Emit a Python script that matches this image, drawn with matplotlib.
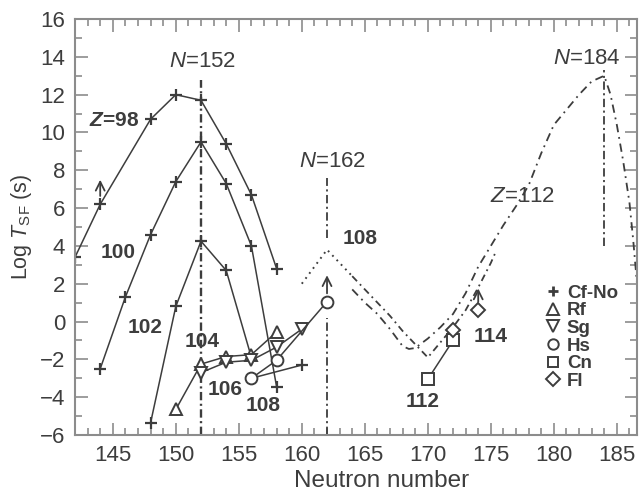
#!/usr/bin/env python3
"""Spontaneous fission half-lives of even-even heavy nuclei versus neutron number."""

import matplotlib

matplotlib.use("Agg")
import matplotlib.pyplot as plt
from matplotlib.lines import Line2D
from matplotlib.ticker import MultipleLocator

INK = "#3d3d3d"
FRAME = "#8c8c8c"

# measured log T_SF (s), Cf-No isotopes
z98_n = [142, 144, 148, 150, 152, 154, 156, 158]
z98_log_t = [3.4, 6.2, 10.7, 12.0, 11.7, 9.4, 6.7, 2.8]
z100_n = [144, 146, 148, 150, 152, 154, 156, 158]
z100_log_t = [-2.5, 1.3, 4.6, 7.4, 9.5, 7.3, 4.0, -3.45]
z102_n = [148, 150, 152, 154, 156]
z102_log_t = [-5.35, 0.8, 4.25, 2.7, -1.9]

# heavier elements
rf_n = [150, 152, 154, 156, 158]
rf_log_t = [-4.65, -2.25, -1.85, -1.75, -0.55]
sg_n = [152, 154, 156, 158, 160]
sg_log_t = [-2.7, -2.15, -2.05, -1.35, -0.4]
hs_n = [156, 158, 162]
hs_log_t = [-3.0, -2.05, 1.05]
hs_side_n = [156, 160]
hs_side_log_t = [-3.0, -2.3]
cn_n = [170, 172]
cn_log_t = [-3.05, -1.0]
fl_n = [172, 174]
fl_log_t = [-0.45, 0.6]

# lower limits (arrows)
limit_n = [144, 162, 174]
limit_from = [6.2, 1.05, 0.6]
limit_to = [7.5, 2.45, 1.75]

# calculated curves
calc108_n = [160, 161, 162, 163, 164]
calc108_log_t = [2.0, 2.9, 3.8, 3.1, 2.4]
calc108_tail_n = [164, 165, 166, 167, 168, 169, 170, 171, 172, 173, 174, 175, 175.4]
calc108_tail_log_t = [2.4, 1.7, 1.0, 0.3, -0.5, -1.2, -1.9, -1.1, -0.3, 0.6, 1.8, 3.1, 3.7]
calc112_n = [164.0, 165, 166, 167, 168, 168.5, 169, 170, 171, 172, 173, 174, 175, 176,
             177, 178, 179, 180, 181, 182, 183, 184, 184.5, 185, 185.5, 186, 186.3, 186.6]
calc112_log_t = [1.7, 1.0, 0.4, -0.4, -1.3, -1.45, -1.4, -0.9, -0.3, 0.4, 1.5, 2.9, 4.0, 5.1,
                 6.1, 7.2, 8.9, 10.4, 11.2, 12.0, 12.7, 13.0, 12.0, 10.4, 8.5, 6.3, 4.3, 2.0]

# closed shells: N, bottom and top of the guide lines
shell_n = [152, 162, 162, 184]
shell_lo = [-6.0, -6.0, 4.4, 4.0]
shell_hi = [12.8, 0.2, 7.6, 13.3]

legend_labels = ["Cf-No", "Rf", "Sg", "Hs", "Cn", "Fl"]


def open_marker(marker, size):
    return dict(marker=marker, ms=size, mfc="white", mec=INK, mew=1.4)


def main() -> int:
    plt.rcParams.update({
        "font.family": ["Liberation Sans", "DejaVu Sans"],
        "mathtext.fontset": "custom",
        "mathtext.rm": "Liberation Sans",
        "mathtext.it": "Liberation Sans:italic",
        "mathtext.bf": "Liberation Sans:bold",
        "mathtext.bfit": "Liberation Sans:italic:bold",
        "lines.scale_dashes": False,
    })

    fig = plt.figure(figsize=(6.41, 4.97), dpi=100)
    ax = fig.add_axes([75 / 641, 62 / 497, 562 / 641, 416 / 497])

    # guide lines at the shell closures
    for n, lo, hi in zip(shell_n, shell_lo, shell_hi):
        width = 1.7 if n == 152 else 1.3
        ax.plot([n, n], [lo, hi], color=INK, lw=width, dashes=(6, 2.5, 1.5, 2.5))

    # calculated half-lives
    ax.plot(calc108_n, calc108_log_t, color=INK, lw=1.4, dashes=(1.3, 3.2))
    ax.plot(calc108_tail_n, calc108_tail_log_t, color=INK, lw=1.3, dashes=(5, 3, 1.3, 3))
    ax.plot(calc112_n, calc112_log_t, color=INK, lw=1.3, dashes=(6, 3.5, 1.3, 3.5))

    # Cf-No
    cross = dict(marker="+", ms=9, mew=1.6, color=INK, lw=1.1)
    ax.plot(z98_n, z98_log_t, **cross)
    ax.plot(z100_n, z100_log_t, **cross)
    ax.plot(z102_n, z102_log_t, markevery=slice(0, -1), **cross)
    ax.plot(hs_side_n, hs_side_log_t, markevery=[1], **cross)

    # heavier elements, open symbols
    ax.plot(rf_n, rf_log_t, color=INK, lw=1.1, **open_marker("^", 9))
    ax.plot(sg_n, sg_log_t, color=INK, lw=1.1, **open_marker("v", 9))
    ax.plot(hs_n, hs_log_t, color=INK, lw=1.1, **open_marker("o", 8.5))
    ax.plot(cn_n, cn_log_t, color=INK, lw=1.1, **open_marker("s", 8.5))
    ax.plot(fl_n, fl_log_t, ls="none", **open_marker("D", 7.6))

    for n, lo, hi in zip(limit_n, limit_from, limit_to):
        ax.annotate("", xy=(n, hi), xytext=(n, lo),
                    arrowprops=dict(arrowstyle="->", color=INK, lw=1.3,
                                    mutation_scale=16, shrinkA=6, shrinkB=0))

    # labels
    plain = dict(color=INK, ha="center", va="center", fontsize=16)
    bold = dict(color=INK, ha="center", va="center", fontsize=15, fontweight="bold")
    ax.text(152.1, 13.75, r"$N$=152", **plain)
    ax.text(162.4, 8.45, r"$N$=162", **plain)
    ax.text(182.6, 13.9, r"$N$=184", **plain)
    ax.text(177.5, 6.6, r"$Z$=112", **plain)
    ax.text(145.1, 10.65, r"$\mathbfit{Z}$=98", **bold)
    ax.text(145.4, 3.65, "100", **bold)
    ax.text(147.6, -0.3, "102", **bold)
    ax.text(152.1, -1.05, "104", **bold)
    ax.text(153.9, -3.6, "106", **bold)
    ax.text(156.9, -4.45, "108", **bold)
    ax.text(164.6, 4.4, "108", **bold)
    ax.text(169.6, -4.25, "112", **bold)
    ax.text(175.0, -0.8, "114", **bold)

    handles = [
        Line2D([], [], ls="none", marker="+", ms=7, mew=2.0, color=INK),
        Line2D([], [], ls="none", **open_marker("^", 9)),
        Line2D([], [], ls="none", **open_marker("v", 9)),
        Line2D([], [], ls="none", **open_marker("o", 7.5)),
        Line2D([], [], ls="none", **open_marker("s", 7.5)),
        Line2D([], [], ls="none", **open_marker("D", 7)),
    ]
    ax.legend(handles, legend_labels, loc="upper left", bbox_to_anchor=(0.837, 0.362),
              frameon=False, borderpad=0, borderaxespad=0, handlelength=0.8,
              handletextpad=0.35, labelspacing=0.03, labelcolor=INK,
              prop={"weight": "bold", "size": 13.5})

    ax.set_xlim(142, 186.6)
    ax.set_ylim(-6, 16)
    ax.xaxis.set_major_locator(MultipleLocator(5))
    ax.xaxis.set_minor_locator(MultipleLocator(1))
    ax.yaxis.set_major_locator(MultipleLocator(2))
    ax.yaxis.set_minor_locator(MultipleLocator(1))
    ax.tick_params(which="both", direction="in", top=True, right=True, color=FRAME,
                   labelcolor=INK, labelsize=16, width=1.2)
    ax.tick_params(which="major", length=9, pad=7)
    ax.tick_params(which="minor", length=5)
    for spine in ax.spines.values():
        spine.set_color(FRAME)
        spine.set_linewidth(1.5)

    ax.set_xlabel("Neutron number", fontsize=17.5, color=INK)
    ax.xaxis.set_label_coords(0.545, -0.11, transform=ax.transAxes)
    ax.xaxis.label.set_va("center")
    ax.set_ylabel(r"Log $T_{\rm SF}$ (s)", fontsize=15.5, color=INK, labelpad=4)

    fig.savefig("out.png", dpi=100)
    plt.close(fig)
    return 0


if __name__ == "__main__":
    raise SystemExit(main())
